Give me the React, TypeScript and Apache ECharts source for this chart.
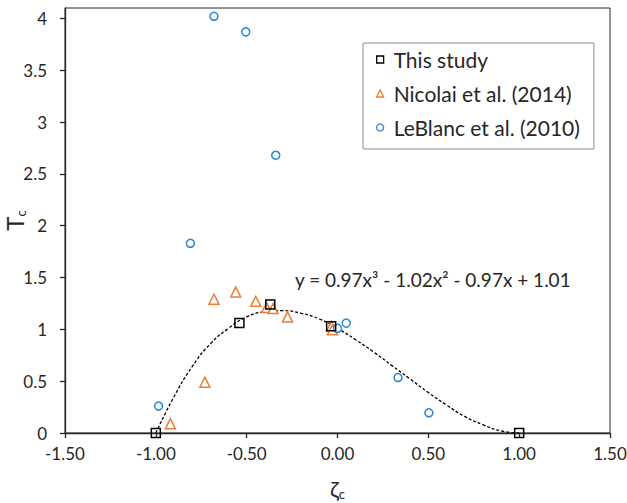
import React, { useEffect, useRef } from "react";
import * as echarts from "echarts";

const FONT = "Lato, 'Open Sans', sans-serif";
const TEXT = "#262626";
const AXIS = "#262626";

const seriesNames = ["This study", "Nicolai et al. (2014)", "LeBlanc et al. (2010)"];

// This study
const studyX = [-1.0, -0.54, -0.37, -0.035, 1.0];
const studyY = [0.0, 1.06, 1.24, 1.03, 0.0];

// Nicolai et al. (2014)
const nicolaiX = [-0.92, -0.73, -0.68, -0.56, -0.45, -0.39, -0.355, -0.275, -0.033, -0.028];
const nicolaiY = [0.09, 0.49, 1.29, 1.36, 1.27, 1.21, 1.2, 1.12, 1.03, 0.995];

// LeBlanc et al. (2010)
const leblancX = [-0.68, -0.505, -0.34, -0.81, -0.985, 0.0, 0.048, 0.333, 0.503];
const leblancY = [4.02, 3.87, 2.68, 1.83, 0.26, 1.01, 1.06, 0.535, 0.195];

// Trend line points
const trendX = [-1.0, -0.9, -0.8, -0.7, -0.6, -0.5, -0.4, -0.3, -0.2, -0.1, 0.0, 0.1, 0.2, 0.3, 0.4, 0.5, 0.6, 0.7, 0.8, 0.9, 1.0];
const trendY = [0.0, 0.35, 0.64, 0.86, 1.01, 1.12, 1.17, 1.18, 1.155, 1.1, 1.01, 0.9, 0.78, 0.65, 0.52, 0.39, 0.27, 0.16, 0.08, 0.02, 0.0];

const yTicks = [0, 0.5, 1, 1.5, 2, 2.5, 3, 3.5, 4];
const equation = "y = 0.97x³ - 1.02x² - 0.97x + 1.01";

const zip = (xs: number[], ys: number[]) => xs.map((x, i) => [x, ys[i]]);

export default function App() {
  const ref = useRef<HTMLDivElement>(null);
  useEffect(() => {
    if (!ref.current) return;
    const chart = echarts.init(ref.current, undefined, { renderer: "svg" });
    chart.setOption({
      animation: false,
      backgroundColor: "#fff",
      textStyle: { fontFamily: FONT },
      grid: {
        left: 65,
        right: 17,
        top: 8,
        bottom: 70,
        containLabel: false,
        outerBoundsMode: "none",
        show: true,
        borderColor: AXIS,
        borderWidth: 1,
      },
      xAxis: {
        type: "value",
        min: -1.5,
        max: 1.5,
        interval: 0.5,
        name: "{z|ζ}{s|c}",
        nameLocation: "middle",
        nameGap: 43,
        nameMoveOverlap: false,
        nameTextStyle: {
          rich: {
            z: { fontSize: 22, color: TEXT, fontFamily: FONT, lineHeight: 24 },
            s: { fontSize: 13, color: TEXT, fontFamily: FONT, verticalAlign: "bottom", lineHeight: 12 },
          },
        },
        axisLine: { show: true, onZero: false, lineStyle: { color: AXIS, width: 1.3 } },
        axisTick: { show: true, inside: false, length: 5, lineStyle: { color: AXIS, width: 1.3 } },
        axisLabel: {
          color: TEXT,
          fontSize: 17,
          fontFamily: FONT,
          margin: 12,
          formatter: (v: number) => v.toFixed(2),
        },
        splitLine: { show: false },
      },
      yAxis: {
        type: "value",
        min: 0,
        max: 4.1,
        interval: 0.5,
        name: "{t|T}{s|c}",
        nameLocation: "middle",
        nameRotate: 90,
        nameGap: 38,
        nameMoveOverlap: false,
        nameTextStyle: {
          rich: {
            t: { fontSize: 24, color: TEXT, fontFamily: FONT, lineHeight: 25 },
            s: { fontSize: 13, color: TEXT, fontFamily: FONT, verticalAlign: "bottom", lineHeight: 12 },
          },
        },
        axisLine: { show: true, onZero: false, lineStyle: { color: AXIS, width: 1.3 } },
        axisTick: { show: true, inside: false, length: 5, customValues: yTicks, lineStyle: { color: AXIS, width: 1.3 } },
        axisLabel: {
          color: TEXT,
          fontSize: 17,
          fontFamily: FONT,
          margin: 18,
          customValues: yTicks,
        },
        splitLine: { show: false },
      },
      legend: {
        orient: "vertical",
        left: 363,
        top: 43,
        padding: [6, 14, 11, 13],
        itemGap: 13,
        itemWidth: 7,
        itemHeight: 7,
        backgroundColor: "#fff",
        borderColor: "#8c8c8c",
        borderWidth: 1,
        borderRadius: 0,
        textStyle: { color: TEXT, fontSize: 21, fontFamily: FONT, padding: [0, 0, 0, 5] },
        data: [
          { name: seriesNames[0], icon: "rect", itemStyle: { color: "#fff", borderColor: "#000", borderWidth: 1.3 } },
          { name: seriesNames[1], icon: "triangle", itemStyle: { color: "#fff", borderColor: "#ED7D31", borderWidth: 1.3 } },
          { name: seriesNames[2], icon: "circle", itemStyle: { color: "#fff", borderColor: "#2E86D1", borderWidth: 1.3 } },
        ],
      },
      graphic: [
        {
          type: "text",
          left: 295,
          top: 270,
          style: { text: equation, fill: TEXT, fontSize: 19, fontFamily: FONT },
        },
      ],
      series: [
        {
          name: "trend",
          type: "line",
          data: zip(trendX, trendY),
          showSymbol: false,
          symbol: "none",
          smooth: true,
          lineStyle: { color: "#000", width: 1.3, type: [3, 2] },
          z: 1,
          silent: true,
        },
        {
          name: seriesNames[1],
          type: "scatter",
          data: zip(nicolaiX, nicolaiY),
          symbol: "triangle",
          symbolSize: 10,
          itemStyle: { color: "#fff", borderColor: "#ED7D31", borderWidth: 1.5, opacity: 1 },
          z: 3,
        },
        {
          name: seriesNames[2],
          type: "scatter",
          data: zip(leblancX, leblancY),
          symbol: "circle",
          symbolSize: 8,
          itemStyle: { color: "#fff", borderColor: "#2E86D1", borderWidth: 1.5, opacity: 1 },
          z: 3,
        },
        {
          name: seriesNames[0],
          type: "scatter",
          data: zip(studyX, studyY),
          symbol: "rect",
          symbolSize: 9,
          itemStyle: { color: "rgba(255,255,255,0)", borderColor: "#000", borderWidth: 1.5, opacity: 1 },
          z: 4,
        },
      ],
    });
    return () => chart.dispose();
  }, []);
  return (
    <div
      ref={ref}
      style={{ position: "absolute", left: 0, top: 0, width: 627, height: 503 }}
    />
  );
}
